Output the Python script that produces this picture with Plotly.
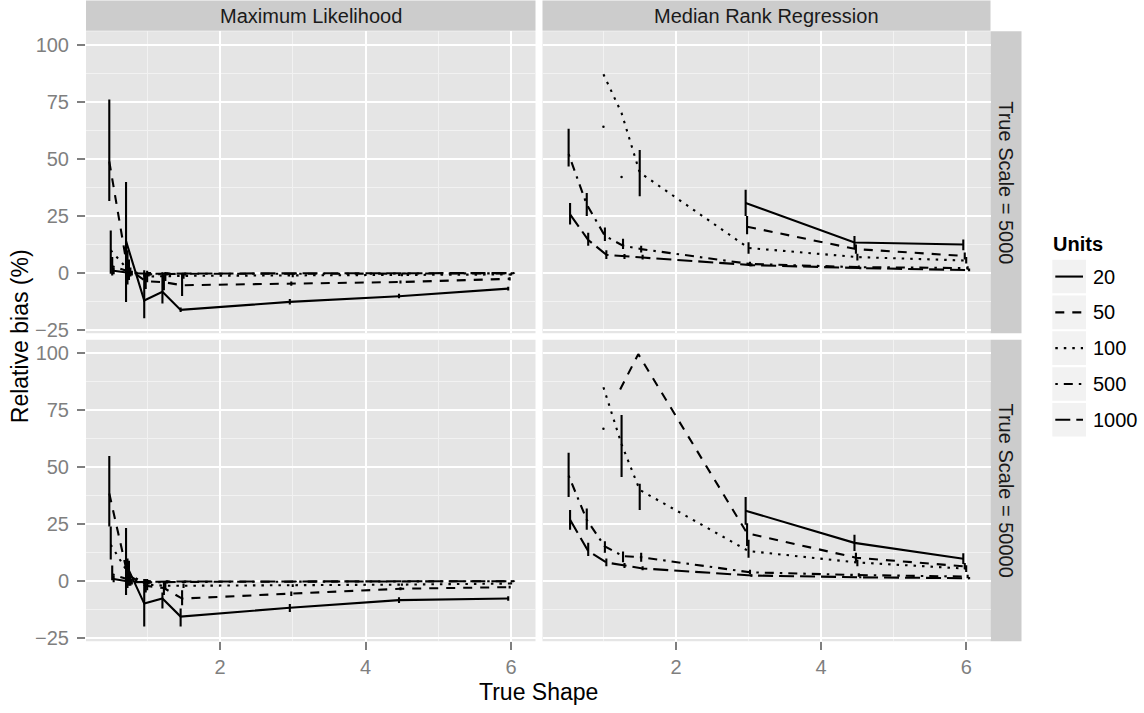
import plotly.graph_objects as go

# ---------------- data ----------------
shapes = [0.5, 0.75, 1.0, 1.25, 1.5, 3.0, 4.5, 6.0]          # True Shape
units = ["20", "50", "100", "500", "1000"]                   # Units
methods = ["Maximum Likelihood", "Median Rank Regression"]
scales = ["True Scale = 5000", "True Scale = 50000"]
x_ticks = [2, 4, 6]
y_ticks = [-25, 0, 25, 50, 75, 100]
N = None

# Maximum Likelihood, scale 5000  (rows = units 20, 50, 100, 500, 1000)
ml5000_mean = [
    [N, 14.0, -12.0, -8.2, -16.1, -12.6, -10.1, -6.8],
    [48.8, 2.0, -3.5, -4.0, -5.3, -4.6, -3.9, -2.5],
    [10.0, 1.0, -1.5, -1.5, -1.2, -1.0, -0.8, -0.6],
    [3.0, 0.5, -0.5, -0.3, -0.3, -0.3, -0.2, -0.1],
    [1.0, 0.0, -0.3, -0.2, -0.2, -0.1, -0.1, 0.0],
]
ml5000_lo = [
    [N, -12.6, -19.8, -13.3, -17.0, -13.7, -11.0, -7.6],
    [31.5, -5.0, -7.0, -7.5, -10.0, -5.5, -4.6, -3.2],
    [-0.3, -3.0, -4.0, -3.5, -2.5, -1.8, -1.4, -1.0],
    [-1.0, -1.5, -1.5, -1.0, -1.0, -0.7, -0.5, -0.4],
    [-0.5, -1.0, -1.0, -0.7, -0.6, -0.4, -0.3, -0.3],
]
ml5000_hi = [
    [N, 39.8, 1.3, 0.4, -15.0, -11.3, -9.0, -6.0],
    [75.9, 10.0, 0.0, -0.5, 0.0, -3.7, -3.2, -1.8],
    [18.6, 6.0, 1.0, 0.5, 0.0, -0.2, -0.2, -0.2],
    [7.0, 2.5, 0.5, 0.4, 0.3, 0.1, 0.1, 0.2],
    [2.5, 1.0, 0.5, 0.3, 0.2, 0.2, 0.1, 0.3],
]

# Median Rank Regression, scale 5000
mrr5000_mean = [
    [N, N, N, N, N, 30.7, 13.4, 12.5],
    [N, N, N, N, N, 20.3, 10.5, 7.5],
    [N, N, 87.0, 70.0, 44.0, 11.0, 7.0, 5.5],
    [52.0, 30.0, 16.3, 12.0, 10.5, 4.0, 2.6, 2.2],
    [25.7, 14.5, 8.0, 7.3, 6.8, 3.5, 2.2, 1.3],
]
mrr5000_lo = [
    [N, N, N, N, N, 25.0, 10.5, 10.0],
    [N, N, N, N, N, 17.0, 8.5, 6.0],
    [N, N, 64.0, 42.0, 33.6, 8.5, 5.5, 4.2],
    [46.6, 25.0, 14.0, 10.5, 9.0, 3.0, 2.0, 1.5],
    [21.3, 12.0, 6.2, 6.2, 6.0, 3.0, 1.7, 0.8],
]
mrr5000_hi = [
    [N, N, N, N, N, 36.5, 16.2, 14.7],
    [N, N, N, N, N, 25.0, 12.5, 9.0],
    [N, N, N, N, 53.8, 13.5, 8.5, 7.0],
    [63.2, 35.0, 20.0, 15.0, 12.0, 5.0, 3.3, 3.0],
    [30.7, 17.7, 10.0, 8.4, 8.0, 4.3, 2.8, 2.0],
]

# Maximum Likelihood, scale 50000
ml50000_mean = [
    [N, 7.5, -9.8, -7.6, -15.5, -11.6, -8.3, -7.6],
    [38.4, 3.0, -2.0, -3.0, -7.6, -5.5, -3.3, -2.6],
    [16.0, 3.0, -1.5, -2.0, -2.0, -1.9, -1.5, -1.0],
    [3.0, 0.5, -0.5, -0.3, -0.3, -0.2, -0.1, 0.0],
    [1.0, -0.4, -0.3, -0.2, -0.1, -0.1, 0.0, 0.0],
]
ml50000_lo = [
    [N, -6.0, -19.8, -12.0, -19.8, -13.5, -9.5, -8.6],
    [24.0, -3.0, -5.0, -6.0, -10.5, -6.5, -4.0, -3.2],
    [9.5, -2.0, -4.0, -3.5, -3.0, -2.5, -2.0, -1.5],
    [0.4, -2.0, -1.5, -1.0, -0.8, -0.5, -0.4, -0.3],
    [-0.5, -1.5, -1.0, -0.6, -0.5, -0.3, -0.3, -0.2],
]
ml50000_hi = [
    [N, 23.3, 1.0, -5.0, -12.0, -10.0, -7.0, -6.6],
    [54.9, 10.0, 1.0, 0.0, -4.0, -4.5, -2.6, -2.0],
    [24.0, 9.0, 1.0, 0.0, -1.0, -1.3, -1.0, -0.5],
    [6.9, 3.0, 0.5, 0.4, 0.3, 0.1, 0.2, 0.3],
    [2.5, 1.0, 0.4, 0.3, 0.2, 0.1, 0.2, 0.3],
]

# Median Rank Regression, scale 50000
mrr50000_mean = [
    [N, N, N, N, N, 30.9, 16.8, 9.8],
    [N, N, N, 84.0, 99.5, 21.0, 10.3, 6.5],
    [N, N, 85.0, 60.0, 40.0, 13.2, 8.2, 5.5],
    [46.3, 26.9, 15.2, 11.0, 10.5, 3.9, 2.7, 2.0],
    [26.9, 13.2, 8.2, 6.8, 5.6, 2.5, 1.7, 1.3],
]
mrr50000_lo = [
    [N, N, N, N, N, 24.7, 13.2, 7.5],
    [N, N, N, N, N, 15.4, 8.5, 5.2],
    [N, N, 66.8, 45.7, 31.2, 10.3, 6.5, 4.0],
    [36.9, 22.5, 12.5, 8.3, 8.5, 3.0, 2.0, 1.3],
    [22.5, 11.0, 6.5, 5.8, 4.8, 2.0, 1.3, 0.9],
]
mrr50000_hi = [
    [N, N, N, N, N, 36.9, 20.4, 12.2],
    [N, N, N, N, N, 25.4, 12.5, 8.0],
    [N, N, N, 72.8, 42.7, 18.2, 9.5, 7.0],
    [56.3, 31.9, 17.5, 13.0, 12.5, 5.0, 3.5, 2.8],
    [31.2, 16.8, 10.0, 8.0, 6.5, 3.0, 2.2, 1.8],
]

# ---------------- styling ----------------
W, H = 1144, 713
FONT = "Liberation Sans, Arial, Helvetica, sans-serif"
FS = 20          # strip / tick / legend text
FT = 23          # axis titles
dodge = [-0.04, -0.02, 0.0, 0.02, 0.04]
dashes = ["solid", "9px,8px", "2.5px,6px", "2.5px,6px,9px,6px", "15px,6px"]
LW = 2.1
x_range = [0.16, 6.335]
y_range = [-26.3, 105.8]
col_px = [(86, 535.5), (542.5, 990.5)]
row_px = [(31.6, 337.0), (343.6, 648.5)]
strip_top = (0.5, 31.0)
strip_right = (990.5, 1021.5)


def fx(x):
    return x / W


def fy(y):
    return 1 - y / H


panels = [
    (0, 0, ml5000_mean, ml5000_lo, ml5000_hi),
    (0, 1, mrr5000_mean, mrr5000_lo, mrr5000_hi),
    (1, 0, ml50000_mean, ml50000_lo, ml50000_hi),
    (1, 1, mrr50000_mean, mrr50000_lo, mrr50000_hi),
]

fig = go.Figure()
layout_axes = {}
for r, c, mean, lo, hi in panels:
    k = r * 2 + c + 1
    xa = "x" if k == 1 else f"x{k}"
    ya = "y" if k == 1 else f"y{k}"
    for u in range(len(units)):
        xs = [s + dodge[u] for s in shapes]
        fig.add_trace(go.Scatter(
            x=xs, y=mean[u], mode="lines", connectgaps=False,
            line=dict(color="black", width=LW, dash=dashes[u]),
            xaxis=xa, yaxis=ya, showlegend=False, hoverinfo="skip"))
        ex, ey, mx, my = [], [], [], []
        for xv, l, h in zip(xs, lo[u], hi[u]):
            if l is not None and h is not None:
                ex += [xv, xv, None]
                ey += [l, h, None]
            elif l is not None:
                mx.append(xv)
                my.append(l)
        if ex:
            fig.add_trace(go.Scatter(
                x=ex, y=ey, mode="lines",
                line=dict(color="black", width=LW),
                xaxis=xa, yaxis=ya, showlegend=False, hoverinfo="skip"))
        if mx:
            fig.add_trace(go.Scatter(
                x=mx, y=my, mode="markers",
                marker=dict(color="black", size=2.5),
                xaxis=xa, yaxis=ya, showlegend=False, hoverinfo="skip"))

    xkey = "xaxis" if k == 1 else f"xaxis{k}"
    ykey = "yaxis" if k == 1 else f"yaxis{k}"
    layout_axes[xkey] = dict(
        domain=[fx(col_px[c][0]), fx(col_px[c][1])], anchor=ya,
        range=x_range, tickmode="array", tickvals=x_ticks,
        showticklabels=(r == 1), ticks="outside" if r == 1 else "",
        ticklen=8, tickwidth=2, tickcolor="#7F7F7F",
        ticklabelstandoff=0,
        tickfont=dict(family=FONT, size=FS, color="#7F7F7F"),
        showgrid=True, gridcolor="white", gridwidth=2.1,
        minor=dict(dtick=1, tick0=0, showgrid=True, gridcolor="#F2F2F2",
                   gridwidth=1.1, ticks=""),
        zeroline=False, showline=False, fixedrange=True)
    layout_axes[ykey] = dict(
        domain=[fy(row_px[r][1]), fy(row_px[r][0])], anchor=xa,
        range=y_range, tickmode="array", tickvals=y_ticks,
        showticklabels=(c == 0), ticks="outside" if c == 0 else "",
        ticklen=8, tickwidth=2, tickcolor="#7F7F7F",
        ticklabelstandoff=4,
        tickfont=dict(family=FONT, size=FS, color="#7F7F7F"),
        showgrid=True, gridcolor="white", gridwidth=2.1,
        minor=dict(dtick=12.5, tick0=0, showgrid=True, gridcolor="#F2F2F2",
                   gridwidth=1.1, ticks=""),
        zeroline=False, showline=False, fixedrange=True)

shp = []
ann = []
# top strips
for c, name in enumerate(methods):
    shp.append(dict(type="rect", xref="paper", yref="paper",
                    x0=fx(col_px[c][0]), x1=fx(col_px[c][1]),
                    y0=fy(strip_top[1]), y1=fy(strip_top[0]),
                    fillcolor="#CCCCCC", line=dict(width=0), layer="below"))
    ann.append(dict(text=name, xref="paper", yref="paper",
                    x=fx((col_px[c][0] + col_px[c][1]) / 2),
                    y=fy((strip_top[0] + strip_top[1]) / 2 + 0.5),
                    showarrow=False, xanchor="center", yanchor="middle",
                    font=dict(family=FONT, size=FS, color="#1A1A1A")))
# right strips
for r, name in enumerate(scales):
    shp.append(dict(type="rect", xref="paper", yref="paper",
                    x0=fx(strip_right[0]), x1=fx(strip_right[1]),
                    y0=fy(row_px[r][1]), y1=fy(row_px[r][0]),
                    fillcolor="#CCCCCC", line=dict(width=0), layer="below"))
    ann.append(dict(text=name, xref="paper", yref="paper",
                    x=fx((strip_right[0] + strip_right[1]) / 2),
                    y=fy((row_px[r][0] + row_px[r][1]) / 2),
                    showarrow=False, xanchor="center", yanchor="middle",
                    textangle=90,
                    font=dict(family=FONT, size=FS, color="#1A1A1A")))

# axis titles
ann.append(dict(text="True Shape", xref="paper", yref="paper",
                x=fx((col_px[0][0] + col_px[1][1]) / 2), y=fy(700),
                showarrow=False, xanchor="center", yanchor="middle",
                borderpad=0,
                font=dict(family=FONT, size=FT, color="black")))
ann.append(dict(text="Relative bias (%)", xref="paper", yref="paper",
                x=fx(20), y=fy((row_px[0][0] + row_px[1][1]) / 2),
                showarrow=False, xanchor="center", yanchor="middle",
                textangle=-90,
                font=dict(family=FONT, size=FT, color="black")))

# legend (drawn from the units list)
leg_x0, leg_x1 = 1052.3, 1086.0
key_top, key_h, key_pitch = 262.7, 34.0, 36.2
ann.append(dict(text="<b>Units</b>", xref="paper", yref="paper",
                x=fx(1050.5), y=fy(246.5), showarrow=False,
                xanchor="left", yanchor="middle",
                font=dict(family=FONT, size=FS, color="black")))
for i, u in enumerate(units):
    y0 = key_top + i * key_pitch
    yc = y0 + key_h / 2
    shp.append(dict(type="rect", xref="paper", yref="paper",
                    x0=fx(leg_x0), x1=fx(leg_x1), y0=fy(y0 + key_h), y1=fy(y0),
                    fillcolor="#F2F2F2", line=dict(width=0)))
    shp.append(dict(type="line", xref="paper", yref="paper",
                    x0=fx(leg_x0 + 3), x1=fx(leg_x1 - 3), y0=fy(yc), y1=fy(yc),
                    line=dict(color="black", width=LW, dash=dashes[i])))
    ann.append(dict(text=u, xref="paper", yref="paper",
                    x=fx(1090.5), y=fy(yc), showarrow=False,
                    xanchor="left", yanchor="middle",
                    font=dict(family=FONT, size=FS, color="black")))

fig.update_layout(
    width=W, height=H, margin=dict(l=0, r=0, t=0, b=0),
    paper_bgcolor="white", plot_bgcolor="#E5E5E5",
    showlegend=False, shapes=shp, annotations=ann,
    font=dict(family=FONT), **layout_axes)

fig.write_html("out.html")
